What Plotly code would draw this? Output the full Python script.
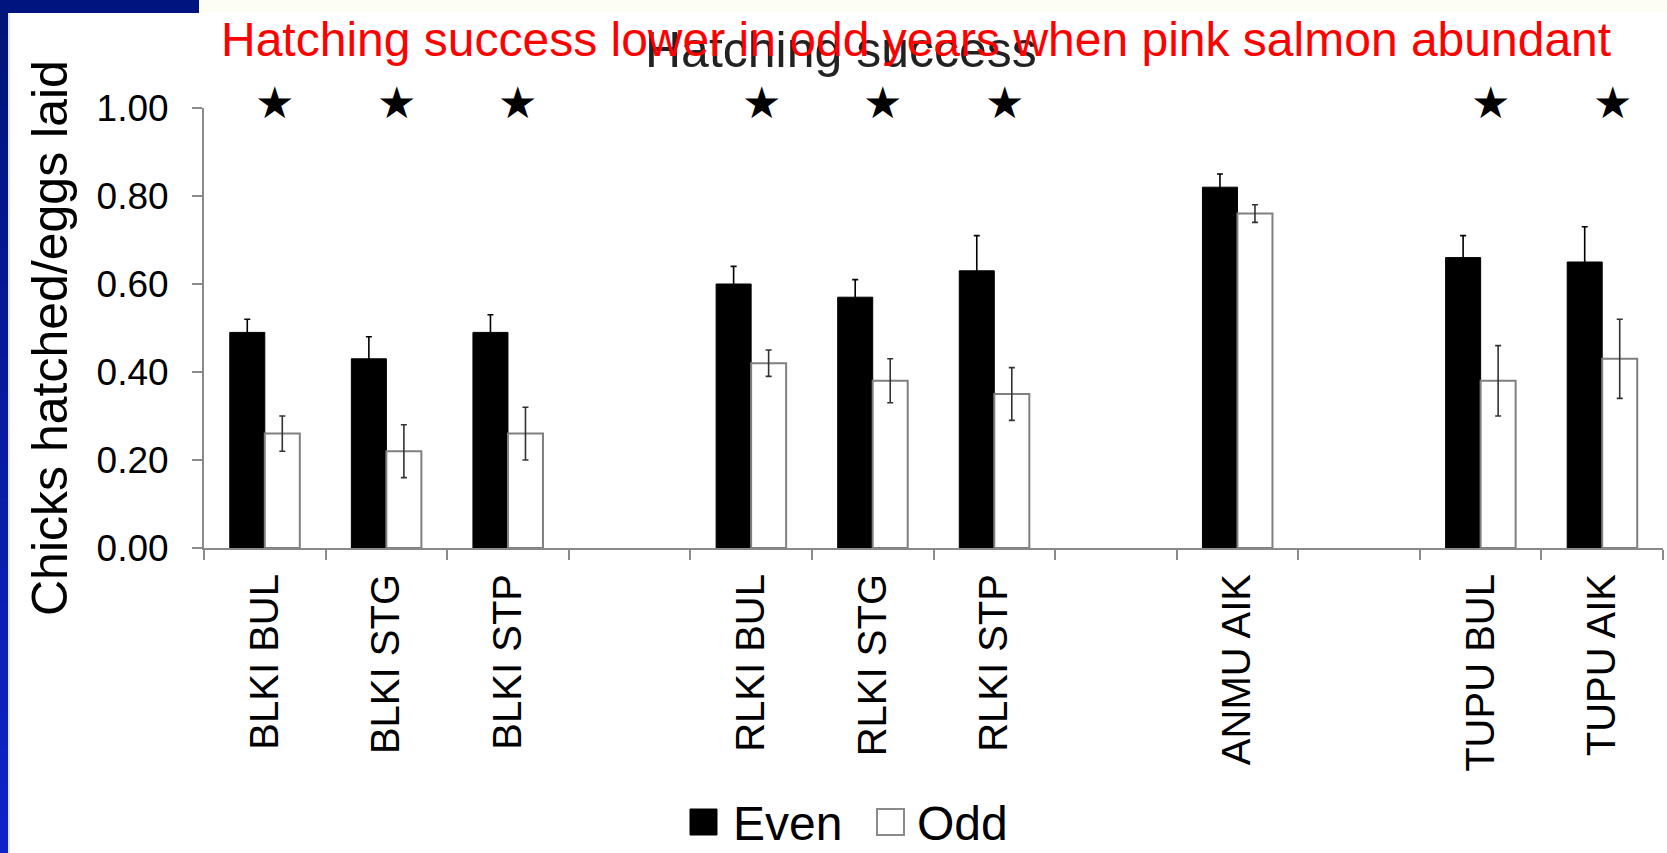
import plotly.graph_objects as go

# Colonies (blank entries are spacer slots between species groups)
categories = ["BLKI BUL", "BLKI STG", "BLKI STP", " ",
              "RLKI BUL", "RLKI STG", "RLKI STP", "  ",
              "ANMU AIK", "   ", "TUPU BUL", "TUPU AIK"]

# Mean hatching success and standard errors
even_mean = [0.49, 0.43, 0.49, None, 0.60, 0.57, 0.63, None, 0.82, None, 0.66, 0.65]
even_se = [0.03, 0.05, 0.04, None, 0.04, 0.04, 0.08, None, 0.03, None, 0.05, 0.08]
odd_mean = [0.26, 0.22, 0.26, None, 0.42, 0.38, 0.35, None, 0.76, None, 0.38, 0.43]
odd_se = [0.04, 0.06, 0.06, None, 0.03, 0.05, 0.06, None, 0.02, None, 0.08, 0.09]

# Colonies with a significant even/odd difference
significant = ["BLKI BUL", "BLKI STG", "BLKI STP", "RLKI BUL", "RLKI STG",
               "RLKI STP", "TUPU BUL", "TUPU AIK"]

y_ticks = [0.0, 0.2, 0.4, 0.6, 0.8, 1.0]

W, H = 1667, 853
L, R, T, B = 204, 1663, 108, 548
FONT = "Liberation Sans, Arial, Helvetica, sans-serif"
AXIS_GREY = "#8a8a8a"


def px(x):
    return (x - L) / (R - L)


def py(y):
    return (B - y) / (B - T)


fig = go.Figure()

fig.add_trace(go.Bar(
    x=categories, y=even_mean, name="Even",
    marker=dict(color="black", line=dict(color="black", width=1)),
    error_y=dict(type="data", array=even_se, color="#000000", thickness=1.6, width=3),
    showlegend=False,
))
fig.add_trace(go.Bar(
    x=categories, y=odd_mean, name="Odd",
    marker=dict(color="white", line=dict(color="#808080", width=2)),
    error_y=dict(type="data", array=odd_se, color="#333333", thickness=1.6, width=3),
    showlegend=False,
))

annotations = []
# significance stars, just above the top of the value axis
for c in significant:
    annotations.append(dict(
        x=c, y=1.0, xref="x", yref="y", text="★", showarrow=False,
        xshift=10, yshift=6, font=dict(family="DejaVu Sans", size=44, color="black"),
        xanchor="center", yanchor="middle",
    ))

# value axis title
annotations.append(dict(
    x=px(50), y=py(338), xref="paper", yref="paper",
    text="Chicks hatched/eggs laid", textangle=-90, showarrow=False,
    xanchor="center", yanchor="middle",
    font=dict(family=FONT, size=50, color="black"),
))

# Chart heading and slide headline
annotations.append(dict(
    x=px(841), y=py(50), xref="paper", yref="paper", text="Hatching success",
    showarrow=False, xanchor="center", yanchor="middle",
    font=dict(family=FONT, size=50, color="#222222"),
))
annotations.append(dict(
    x=px(916), y=py(39), xref="paper", yref="paper",
    text="Hatching success lower in odd years when pink salmon abundant",
    showarrow=False, xanchor="center", yanchor="middle",
    font=dict(family=FONT, size=48, color="#ff0000"),
))

# Legend text
annotations.append(dict(
    x=px(731), y=py(823), xref="paper", yref="paper", text="Even",
    showarrow=False, xanchor="left", yanchor="middle",
    font=dict(family=FONT, size=48, color="black"),
))
annotations.append(dict(
    x=px(915), y=py(823), xref="paper", yref="paper", text="Odd",
    showarrow=False, xanchor="left", yanchor="middle",
    font=dict(family=FONT, size=48, color="black"),
))

shapes = []
# legend swatches
shapes.append(dict(type="rect", xref="paper", yref="paper",
                   x0=px(690), x1=px(717), y0=py(835), y1=py(809),
                   fillcolor="black", line=dict(color="black", width=1)))
shapes.append(dict(type="rect", xref="paper", yref="paper",
                   x0=px(877), x1=px(904), y0=py(835), y1=py(809),
                   fillcolor="white", line=dict(color="#8a8a8a", width=2)))

# slide frame: top band and left blue edge with a gentle gradient
shapes.append(dict(type="rect", xref="paper", yref="paper",
                   x0=px(199), x1=px(W), y0=py(12), y1=py(0),
                   fillcolor="#fdfdf3", line=dict(width=0), layer="below"))
n_seg = 24
top_rgb = (0, 20, 122)
bot_rgb = (14, 36, 200)
for i in range(n_seg):
    f = i / (n_seg - 1)
    col = "rgb({},{},{})".format(*[round(a + (b - a) * f) for a, b in zip(top_rgb, bot_rgb)])
    y0 = H * i / n_seg
    y1 = H * (i + 1) / n_seg + 1
    shapes.append(dict(type="rect", xref="paper", yref="paper",
                       x0=px(0), x1=px(8), y0=py(y1), y1=py(y0),
                       fillcolor=col, line=dict(width=0)))
shapes.append(dict(type="rect", xref="paper", yref="paper",
                   x0=px(0), x1=px(199), y0=py(13), y1=py(0),
                   fillcolor="rgb(0,20,128)", line=dict(width=0)))
shapes.append(dict(type="line", xref="paper", yref="paper",
                   x0=px(9), x1=px(9), y0=py(H), y1=py(13),
                   line=dict(color="#cfcfcf", width=1)))

fig.update_layout(
    width=W, height=H,
    margin=dict(l=L, r=W - R, t=T, b=H - B, pad=0),
    paper_bgcolor="white", plot_bgcolor="white",
    barmode="group", bargap=0.424, bargroupgap=0,
    showlegend=False,
    font=dict(family=FONT, color="black"),
    annotations=annotations,
    shapes=shapes,
    xaxis=dict(
        type="category", categoryorder="array", categoryarray=categories,
        range=[-0.5, len(categories) - 0.5],
        showline=True, linecolor=AXIS_GREY, linewidth=2,
        ticks="outside", tickson="boundaries", ticklen=10, tickwidth=2,
        tickcolor=AXIS_GREY, tickangle=-90,
        tickfont=dict(family=FONT, size=40, color="black"),
        ticklabelstandoff=8,
        showgrid=False, zeroline=False, automargin=False, fixedrange=True,
    ),
    yaxis=dict(
        range=[0, 1.0], tickvals=y_ticks, tickformat=".2f",
        showline=True, linecolor=AXIS_GREY, linewidth=2,
        ticks="outside", ticklen=10, tickwidth=2, tickcolor=AXIS_GREY,
        tickfont=dict(family=FONT, size=37, color="black"),
        ticklabelstandoff=16,
        showgrid=False, zeroline=False, automargin=False, fixedrange=True,
    ),
)

fig.write_html("out.html")
